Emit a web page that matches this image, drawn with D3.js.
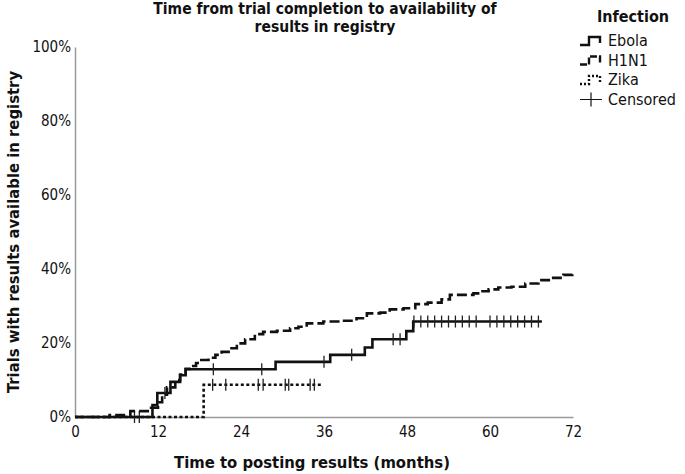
<!DOCTYPE html>
<html lang="en">
<head>
<meta charset="utf-8">
<title>Time from trial completion to availability of results</title>
<script src="https://cdn.jsdelivr.net/npm/d3@7"></script>
<style>
  body { margin: 0; background: #fff; }
  svg text { font-family: "DejaVu Sans Condensed", "DejaVu Sans", sans-serif; fill: #111; }
</style>
</head>
<body>
<script>
// step times (months) and cumulative % with results, per infection
var ebolaT = [0, 11.2, 11.9, 13.8, 15.2, 16.0, 29.0, 36.9, 41.9, 43.0, 47.9, 48.9];
var ebolaV = [0, 3.2, 6.5, 9.5, 11.3, 12.9, 14.9, 16.8, 18.8, 21.0, 23.2, 25.8];
var ebolaEnd = 67.5;
var ebolaCens = [13.0, 20.0, 27.0, 36.0, 40.0, 46.0, 47.0, 49, 50, 51, 52, 53, 54, 55, 56, 57, 58,
                 60, 61, 62, 63, 64, 65, 66, 67];

var h1n1T = [0, 5, 8, 11, 12, 12.6, 13.3, 14.5, 15.2, 16.0, 16.8, 17.5, 18.0, 19.3, 20.3, 21.2, 22.4,
             23.4, 24.6, 26.0, 27.2, 29.2, 31.1, 32.3, 33.5, 35.9, 38.3, 40.7, 42.2, 44.1, 45.5, 47.5,
             49.2, 51.0, 53.0, 54.2, 57.6, 58.5, 59.8, 61.2, 63.1, 65.1, 67.0, 68.7, 70.6, 71.9];
var h1n1V = [0, 0.5, 1.6, 2.5, 4.0, 6.0, 8.0, 10.0, 11.5, 13.0, 13.8, 14.6, 15.4, 16.0, 16.8, 17.6, 18.6,
             19.9, 21.0, 22.4, 23.0, 23.3, 24.0, 24.4, 25.3, 25.8, 26.0, 26.7, 28.0, 28.2, 29.1, 29.4,
             30.5, 30.9, 31.8, 33.0, 33.4, 34.0, 34.5, 35.0, 35.2, 36.1, 37.0, 37.6, 38.4, 39.0];
var h1n1End = 72;
var h1n1Cens = [];

var zikaT = [0, 18.6];
var zikaV = [0, 8.7];
var zikaEnd = 35.6;
var zikaCens = [8.6, 9.3, 19.9, 21.8, 26.5, 27.2, 30.4, 30.9, 34.0, 34.6];

var xTicks = [0, 12, 24, 36, 48, 60, 72];
var yTicks = [0, 20, 40, 60, 80, 100];

var w = 685, h = 474;
var svg = d3.select("body").append("svg").attr("width", w).attr("height", h);

var x = d3.scaleLinear().domain([0, 72]).range([75, 573]);
var y = d3.scaleLinear().domain([0, 100]).range([417, 47]);

// axes
svg.append("g")
  .attr("transform", "translate(0," + y(0) + ")")
  .call(d3.axisBottom(x).tickValues(xTicks).tickSize(0).tickPadding(9))
  .call(function (g) {
    g.select(".domain").attr("stroke", "#999").attr("stroke-width", 1.5);
    g.selectAll("text").attr("font-size", "15px").attr("fill", "#111");
  });

svg.append("g")
  .attr("transform", "translate(" + x(0) + ",0)")
  .call(d3.axisLeft(y).tickValues(yTicks).tickSize(0).tickPadding(4)
    .tickFormat(function (d) { return d + "%"; }))
  .call(function (g) {
    g.select(".domain").attr("stroke", "#999").attr("stroke-width", 1.5);
    g.selectAll("text").attr("font-size", "15px").attr("fill", "#111");
  });

var series = [
  { t: ebolaT, v: ebolaV, end: ebolaEnd, cens: ebolaCens, dash: null },
  { t: h1n1T, v: h1n1V, end: h1n1End, cens: h1n1Cens, dash: "10,4" },
  { t: zikaT, v: zikaV, end: zikaEnd, cens: zikaCens, dash: "3,2.5" }
];

var line = d3.line()
  .x(function (d) { return x(d[0]); })
  .y(function (d) { return y(d[1]); })
  .curve(d3.curveStepAfter);

function levelAt(s, t) {
  var i = d3.bisectRight(s.t, t) - 1;
  return s.v[Math.max(i, 0)];
}

series.slice().reverse().forEach(function (s) {
  var pts = s.t.map(function (t, i) { return [t, s.v[i]]; });
  pts.push([s.end, s.v[s.v.length - 1]]);
  svg.append("path")
    .attr("d", line(pts))
    .attr("fill", "none")
    .attr("stroke", "#111")
    .attr("stroke-width", 2.6)
    .attr("stroke-dasharray", s.dash);

  svg.selectAll(null)
    .data(s.cens)
    .enter()
    .append("line")
    .attr("x1", function (d) { return x(d); })
    .attr("x2", function (d) { return x(d); })
    .attr("y1", function (d) { return y(levelAt(s, d)) - 6; })
    .attr("y2", function (d) { return y(levelAt(s, d)) + 6; })
    .attr("stroke", "#222")
    .attr("stroke-width", 1.3);
});

// title
svg.append("text").attr("x", 325).attr("y", 14).attr("text-anchor", "middle")
  .attr("font-size", "15.5px").attr("font-weight", "bold")
  .text("Time from trial completion to availability of");
svg.append("text").attr("x", 325).attr("y", 32).attr("text-anchor", "middle")
  .attr("font-size", "15.5px").attr("font-weight", "bold")
  .text("results in registry");

// axis titles
svg.append("text").attr("x", 312).attr("y", 468).attr("text-anchor", "middle")
  .attr("font-size", "16.5px").attr("font-weight", "bold")
  .text("Time to posting results (months)");
svg.append("text")
  .attr("transform", "translate(19," + y(50) + ") rotate(-90)")
  .attr("text-anchor", "middle")
  .attr("font-size", "16.5px").attr("font-weight", "bold")
  .text("Trials with results available in registry");

// legend
var legNames = ["Ebola", "H1N1", "Zika", "Censored"];
var legDash = [null, "7,2", "2,2", null];
svg.append("text").attr("x", 633).attr("y", 22).attr("text-anchor", "middle")
  .attr("font-size", "16px").attr("font-weight", "bold").text("Infection");

var leg = svg.selectAll(".leg")
  .data(legNames)
  .enter()
  .append("g")
  .attr("transform", function (d, i) { return "translate(580," + (41 + i * 19.5) + ")"; });

leg.append("path")
  .attr("d", function (d, i) {
    return i < 3 ? "M0,4 H9 V-4 H20 V2" : "M0,0 H22 M11,-7 V7";
  })
  .attr("fill", "none")
  .attr("stroke", "#111")
  .attr("stroke-width", function (d, i) { return i < 3 ? 2.4 : 1.2; })
  .attr("stroke-dasharray", function (d, i) { return legDash[i]; });

leg.append("text")
  .attr("x", 28).attr("y", 5)
  .attr("font-size", "16px")
  .text(function (d) { return d; });
</script>
</body>
</html>
